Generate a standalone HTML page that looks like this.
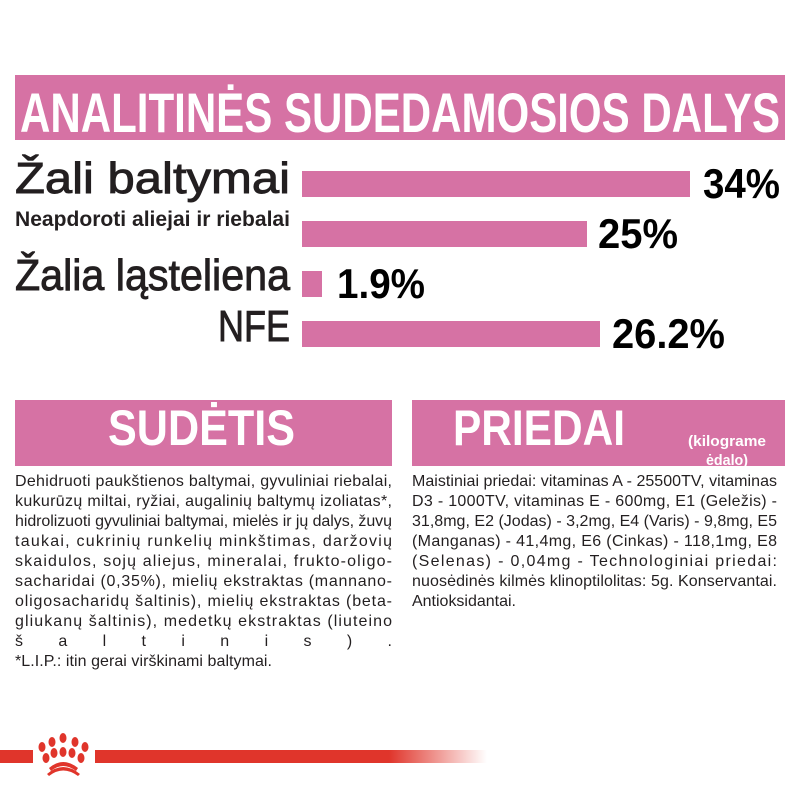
<!DOCTYPE html>
<html><head><meta charset="utf-8"><style>
html,body{margin:0;padding:0;background:#fff;width:800px;height:800px;overflow:hidden}
svg{display:block}
.c{font-family:"Liberation Sans Narrow","Liberation Sans",sans-serif}
</style></head><body>
<svg width="800" height="800" viewBox="0 0 800 800" xmlns="http://www.w3.org/2000/svg">
<defs><linearGradient id="g" x1="0" x2="1"><stop offset="0" stop-color="#e0352b"/><stop offset="0.75" stop-color="#e0352b"/><stop offset="1" stop-color="#e0352b" stop-opacity="0"/></linearGradient></defs>
<rect x="15" y="75" width="770" height="65" fill="#d672a4"/>
<text class="c" x="20" y="132" font-size="56" font-weight="bold" fill="#fff" textLength="760" lengthAdjust="spacingAndGlyphs">ANALITINĖS SUDEDAMOSIOS DALYS</text>
<g fill="#d672a4">
<rect x="302" y="171" width="388" height="26"/>
<rect x="302" y="221" width="285" height="26"/>
<rect x="302" y="271" width="20" height="26"/>
<rect x="302" y="321" width="298" height="26"/>
</g>
<g class="c" fill="#231f20" text-anchor="end" stroke="#231f20" stroke-width="0.9">
<text x="290" y="193" font-size="44" textLength="275" lengthAdjust="spacingAndGlyphs">Žali baltymai</text>
<text x="290" y="290" font-size="44" textLength="275" lengthAdjust="spacingAndGlyphs">Žalia ląsteliena</text>
<text x="290" y="341" font-size="44" textLength="72" lengthAdjust="spacingAndGlyphs">NFE</text>
</g>
<text class="c" x="290" y="226" text-anchor="end" fill="#231f20" font-weight="bold" font-size="21" textLength="275" lengthAdjust="spacingAndGlyphs">Neapdoroti aliejai ir riebalai</text>
<g class="c" fill="#000" font-weight="bold" font-size="42">
<text x="703" y="198" textLength="77" lengthAdjust="spacingAndGlyphs">34%</text>
<text x="598" y="248" textLength="80" lengthAdjust="spacingAndGlyphs">25%</text>
<text x="337" y="298" textLength="88" lengthAdjust="spacingAndGlyphs">1.9%</text>
<text x="612" y="348" textLength="113" lengthAdjust="spacingAndGlyphs">26.2%</text>
</g>
<rect x="15" y="400" width="377" height="66" fill="#d672a4"/>
<rect x="412" y="400" width="373" height="66" fill="#d672a4"/>
<g class="c" fill="#fff" font-weight="bold">
<text x="108" y="445" font-size="50" textLength="187" lengthAdjust="spacingAndGlyphs">SUDĖTIS</text>
<text x="453" y="445" font-size="50" textLength="172" lengthAdjust="spacingAndGlyphs">PRIEDAI</text>
<text x="688" y="446" font-size="15" textLength="78" lengthAdjust="spacingAndGlyphs">(kilograme</text>
<text x="706" y="465" font-size="15" textLength="42" lengthAdjust="spacingAndGlyphs">ėdalo)</text>
</g>
<g class="c" fill="#231f20" font-size="16" lengthAdjust="spacingAndGlyphs">
<text x="15" y="486" textLength="377">Dehidruoti paukštienos baltymai, gyvuliniai riebalai,</text>
<text x="15" y="506" textLength="377">kukurūzų miltai, ryžiai, augalinių baltymų izoliatas*,</text>
<text x="15" y="526" textLength="377">hidrolizuoti gyvuliniai baltymai, mielės ir jų dalys, žuvų</text>
<text x="15" y="546" textLength="377">taukai, cukrinių runkelių minkštimas, daržovių</text>
<text x="15" y="566" textLength="377">skaidulos, sojų aliejus, mineralai, frukto-oligo-</text>
<text x="15" y="586" textLength="377">sacharidai (0,35%), mielių ekstraktas (mannano-</text>
<text x="15" y="606" textLength="377">oligosacharidų šaltinis), mielių ekstraktas (beta-</text>
<text x="15" y="626" textLength="377">gliukanų šaltinis), medetkų ekstraktas (liuteino</text>
<text x="15" y="646" textLength="377" lengthAdjust="spacing">š a l t i n i s ) .</text>
<text x="15" y="666" textLength="257">*L.I.P.: itin gerai virškinami baltymai.</text>
<text x="412" y="486" textLength="365">Maistiniai priedai: vitaminas A - 25500TV, vitaminas</text>
<text x="412" y="506" textLength="365">D3 - 1000TV, vitaminas E - 600mg, E1 (Geležis) -</text>
<text x="412" y="526" textLength="365">31,8mg, E2 (Jodas) - 3,2mg, E4 (Varis) - 9,8mg, E5</text>
<text x="412" y="546" textLength="365">(Manganas) - 41,4mg, E6 (Cinkas) - 118,1mg, E8</text>
<text x="412" y="566" textLength="365">(Selenas) - 0,04mg - Technologiniai priedai:</text>
<text x="412" y="586" textLength="365">nuosėdinės kilmės klinoptilolitas: 5g. Konservantai.</text>
<text x="412" y="606" textLength="104">Antioksidantai.</text>
</g>
<rect x="0" y="750" width="33" height="13" fill="#e0352b"/>
<rect x="95" y="750" width="392" height="13" fill="url(#g)"/>
<g fill="#e0352b">
<ellipse cx="42" cy="747" rx="3.5" ry="5"/>
<ellipse cx="52" cy="742" rx="3.5" ry="5"/>
<ellipse cx="63" cy="738" rx="3.5" ry="5"/>
<ellipse cx="75" cy="742" rx="3.5" ry="5"/>
<ellipse cx="85" cy="747" rx="3.5" ry="5"/>
<ellipse cx="46" cy="758" rx="3.5" ry="5"/>
<ellipse cx="54" cy="753" rx="3.5" ry="5"/>
<ellipse cx="63" cy="752" rx="3.5" ry="5"/>
<ellipse cx="72" cy="753" rx="3.5" ry="5"/>
<ellipse cx="81" cy="758" rx="3.5" ry="5"/>
<path d="M47 774 Q63 760 80 774 L78 776 Q63 765 49 776Z"/>
<path d="M49 768 Q63 756 78 768 L76 771 Q63 761 51 771Z"/>
</g>
</svg>
</body></html>
